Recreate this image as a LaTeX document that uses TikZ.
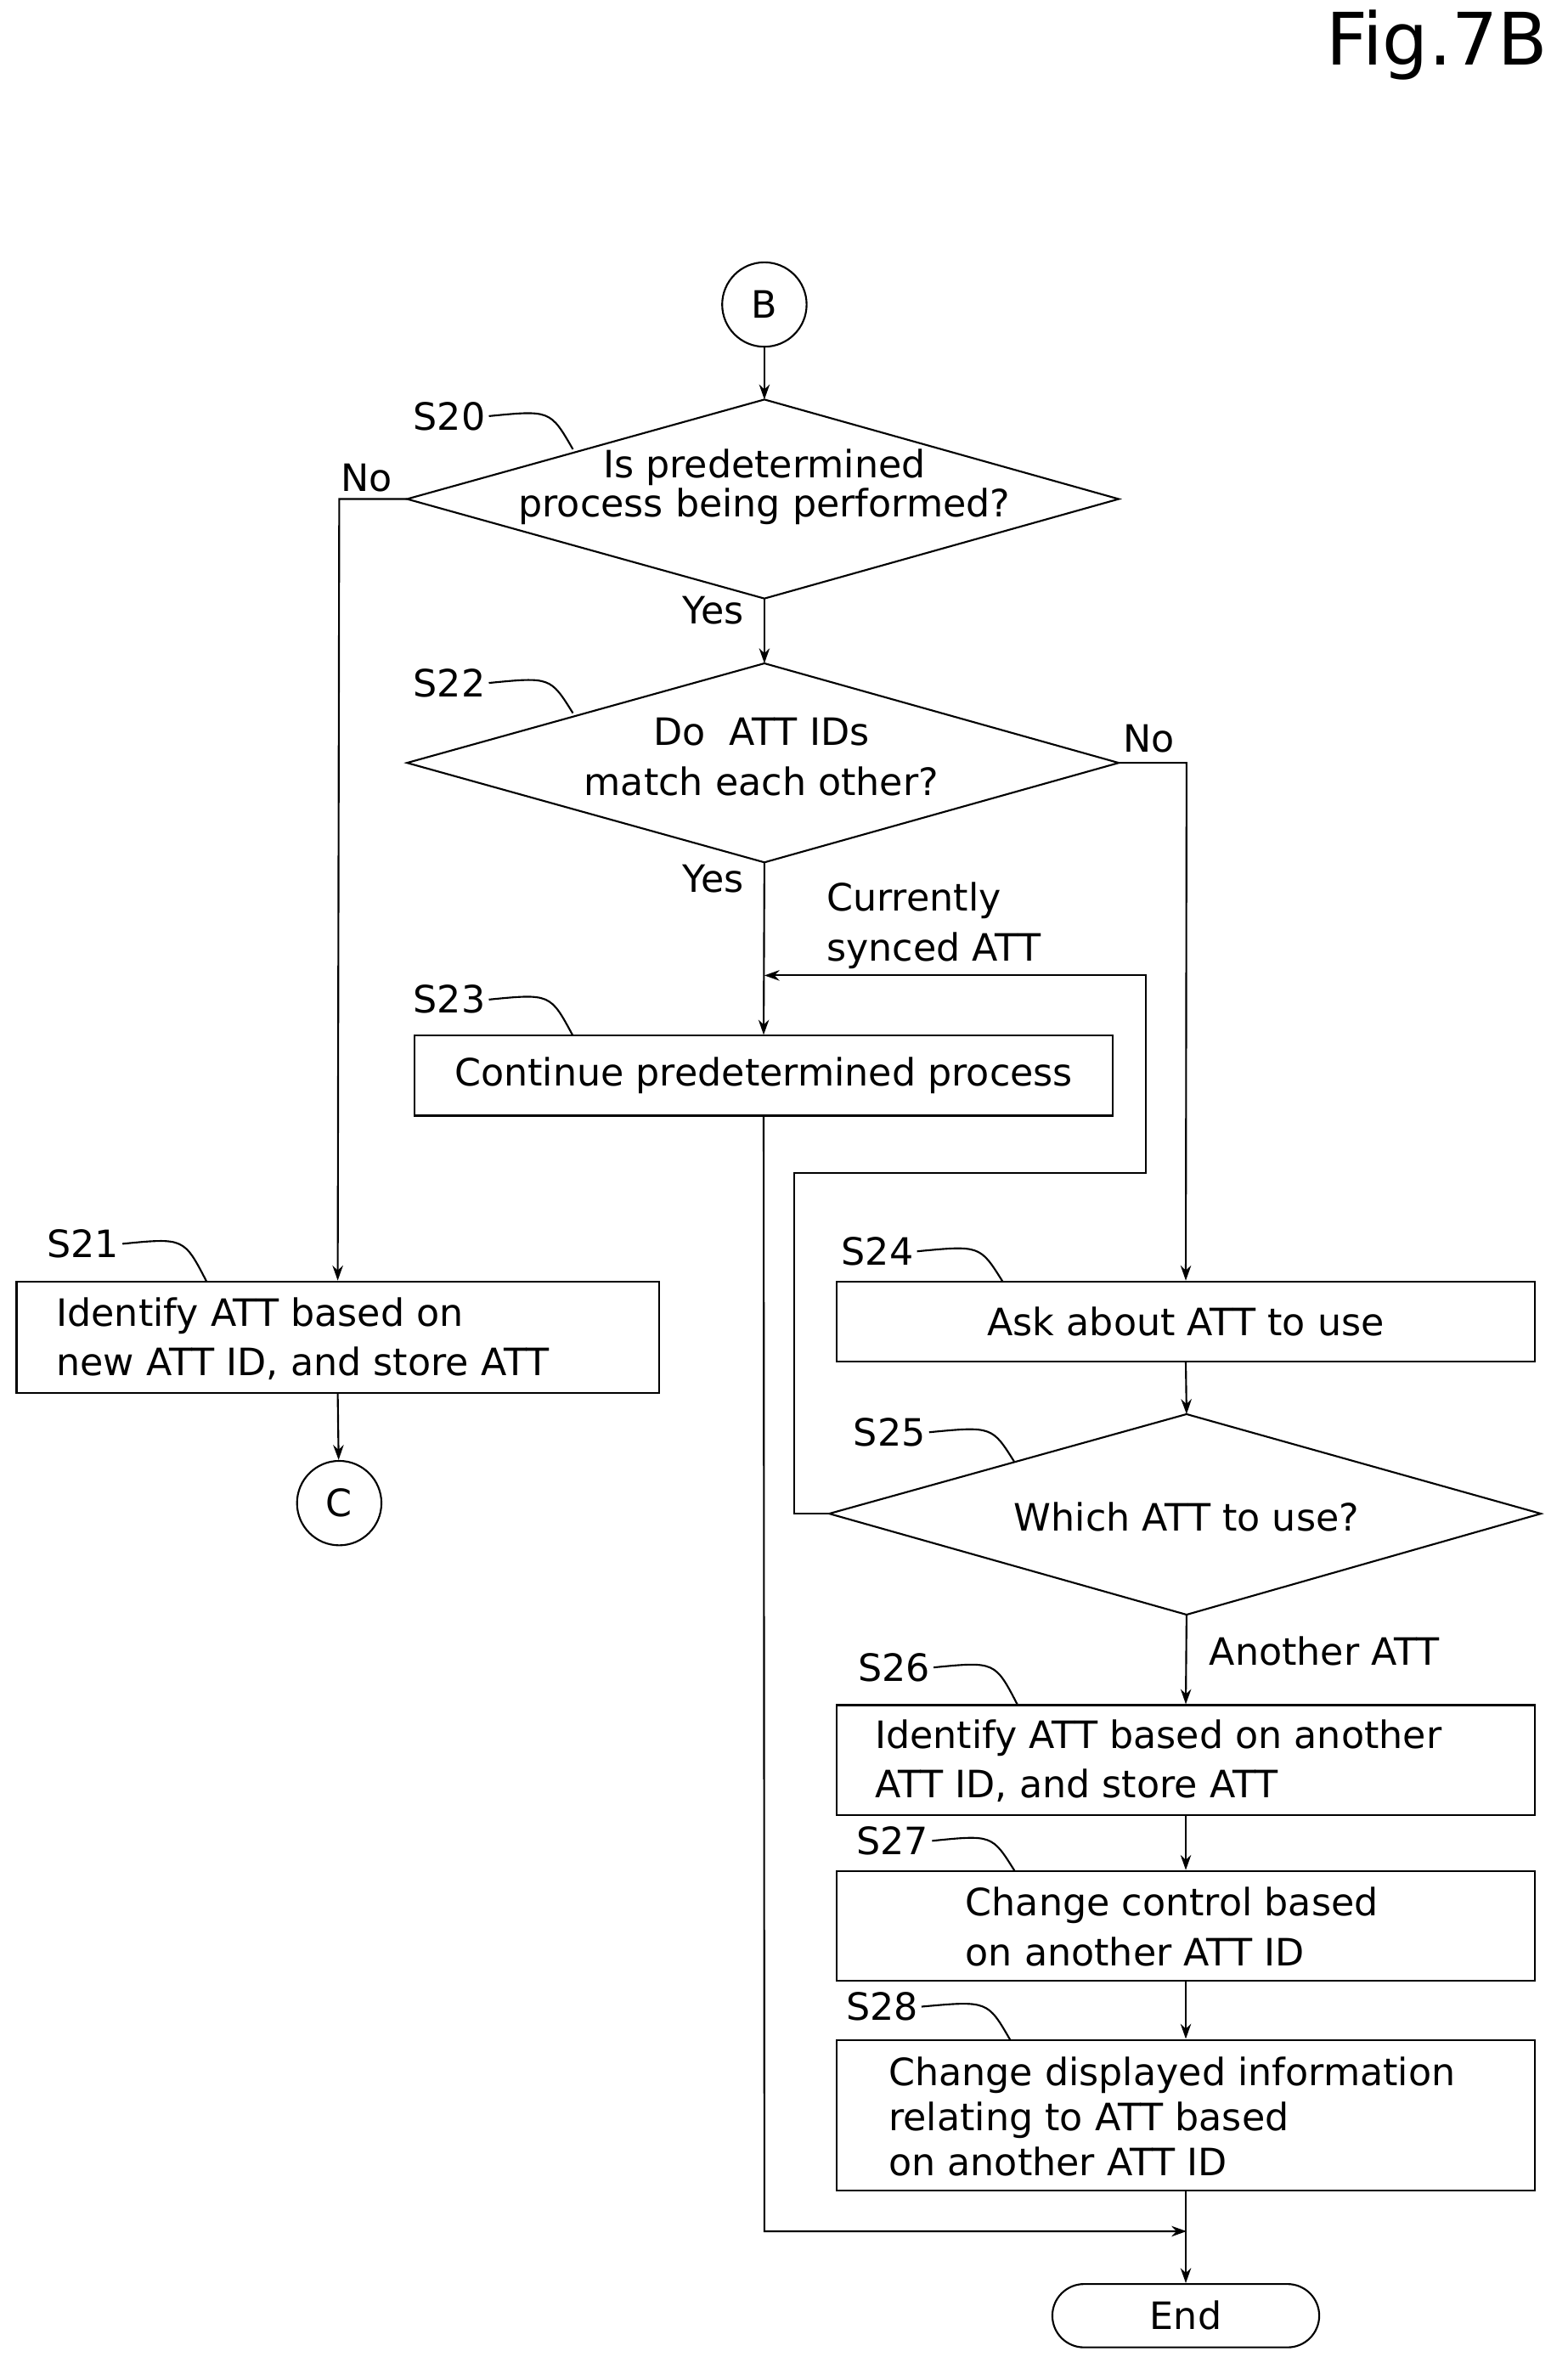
\documentclass[tikz,border=0pt]{standalone}
\usepackage{fontspec}
\setmainfont{DejaVu Sans}
\usetikzlibrary{arrows.meta}
\begin{document}
\begin{tikzpicture}[x=0.5pt,y=-0.5pt,
  every node/.style={font=\fontsize{12.5}{16.5}\selectfont},
  box/.style={draw,line width=0.6pt,rectangle,inner sep=0pt},
  ln/.style={line width=0.6pt},
  ar/.style={line width=0.6pt,-{Stealth[length=5pt,width=3.5pt]}},
  lbl/.style={inner sep=1pt},
  tx/.style={align=left,inner sep=0pt}]
\useasboundingbox (0,0) rectangle (1040,1563.4);
\node[font=\fontsize{24}{28}\selectfont] (fig) at (953,30) {Fig.7B};
% start B
\node[draw,circle,line width=0.6pt,minimum size=28pt,inner sep=0pt] (B) at (507,202) {B};
% S20
\coordinate (s20t) at (507,265); \coordinate (s20b) at (507,397);
\coordinate (s20l) at (270,331); \coordinate (s20r) at (742,331);
\draw[ln] (s20t)--(s20r)--(s20b)--(s20l)--cycle;
\node[align=center,font=\fontsize{12.5}{13}\selectfont] (t20) at (507,323) {Is predetermined\\process being performed?};
\node[lbl] (l20) at (298,276) {S20};
\draw[ln] (l20.east) .. controls (365,272) .. (380,298);
% S22
\coordinate (s22t) at (507,440); \coordinate (s22b) at (507,572);
\coordinate (s22l) at (270,506); \coordinate (s22r) at (742,506);
\draw[ln] (s22t)--(s22r)--(s22b)--(s22l)--cycle;
\node[align=center] (t22) at (505,502) {Do\ \ ATT IDs\\match each other?};
\node[lbl] (l22) at (298,453) {S22};
\draw[ln] (l22.east) .. controls (365,449) .. (380,473);
% S23
\node[box,minimum width=231.5pt,minimum height=26.5pt] (s23) at (506.5,713.5) {Continue predetermined process};
\node[lbl] (l23) at (298,663) {S23};
\draw[ln] (l23.east) .. controls (365,659) .. (380,687);
% S21
\node[box,minimum width=213pt,minimum height=37pt] (s21) at (224,887) {};
\node[tx,anchor=west] at (37,888) {Identify ATT based on\\new ATT ID, and store ATT};
\node[lbl] (l21) at (55,825) {S21};
\node[draw,circle,line width=0.6pt,minimum size=28pt,inner sep=0pt] (C) at (225,997) {C};
\draw[ln] (l21.east) .. controls (122,821) .. (137,850);
% S24
\node[box,minimum width=231.5pt,minimum height=26.5pt] (s24) at (786.5,876.5) {Ask about ATT to use};
\node[lbl] (l24) at (582,830) {S24};
\draw[ln] (l24.east) .. controls (650,826) .. (665,850);
% S25
\coordinate (s25t) at (787,938); \coordinate (s25b) at (787,1071);
\coordinate (s25l) at (550,1004); \coordinate (s25r) at (1022,1004);
\draw[ln] (s25t)--(s25r)--(s25b)--(s25l)--cycle;
\node (t25) at (787,1006) {Which ATT to use?};
\node[lbl] (l25) at (590,950) {S25};
\draw[ln] (l25.east) .. controls (658,946) .. (673,970);
% S26
\node[box,minimum width=231.5pt,minimum height=36.5pt] (s26) at (786.5,1167.5) {};
\node[tx,anchor=west] at (580,1168) {Identify ATT based on another\\ATT ID, and store ATT};
\node[lbl] (l26) at (593,1106) {S26};
\draw[ln] (l26.east) .. controls (660,1102) .. (675,1131);
% S27
\node[box,minimum width=231.5pt,minimum height=36.5pt] (s27) at (786.5,1277.5) {};
\node[tx,anchor=west] at (640,1278) {Change control based\\on another ATT ID};
\node[lbl] (l27) at (592,1221) {S27};
\draw[ln] (l27.east) .. controls (658,1217) .. (673,1241);
% S28
\node[box,minimum width=231.5pt,minimum height=50pt] (s28) at (786.5,1403) {};
\node[tx,anchor=west,font=\fontsize{12.5}{15}\selectfont] at (589,1404) {Change displayed information\\relating to ATT based\\on another ATT ID};
\node[lbl] (l28) at (585,1331) {S28};
\draw[ln] (l28.east) .. controls (655,1327) .. (670,1353);
% End
\node[draw,rounded corners=10.5pt,line width=0.6pt,minimum width=88.5pt,minimum height=21pt] (end) at (786.5,1536) {End};
% connectors
\draw[ar] (B)--(s20t);
\draw[ar] (s20b)--(s22t);
\node (yes1) at (473,405) {Yes};
\draw[ar] (s20l)--(225,331)--(s21.north);
\node (no1) at (243,317) {No};
\draw[ar] (s22b)--(s23.north);
\node (yes2) at (473,583) {Yes};
\draw[ar] (s22r)--(787,506)--(s24.north);
\node (no2) at (762,490) {No};
\draw[ar] (s21.south)--(C);
\draw[ar] (s24.south)--(s25t);
\draw[ar] (s25b)--(s26.north);
\node[anchor=west] (ano) at (795,1095) {Another ATT};
\draw[ar] (s26.south)--(s27.north);
\draw[ar] (s27.south)--(s28.north);
\draw[ar] (s28.south)--(end.north);
\coordinate (loopend) at (507,647);
\draw[ar] (s25l)--(527,1004)--(527,778)--(760,778)--(760,647)--(loopend);
\node[tx,anchor=west] (cur) at (548,614) {Currently\\synced ATT};
\coordinate (mrg) at (787,1480);
\draw[ar] (s23.south)--(507,1480)--(mrg);
\end{tikzpicture}
\end{document}
